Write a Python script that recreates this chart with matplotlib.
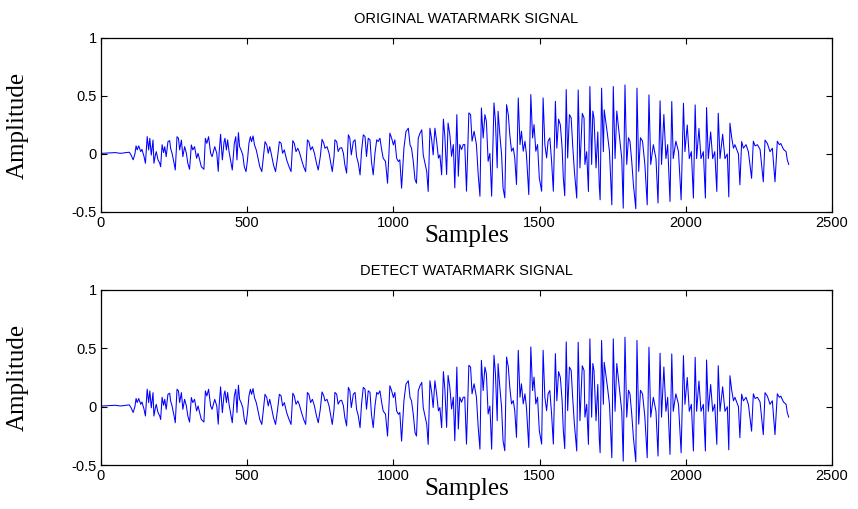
import numpy as np
import matplotlib
matplotlib.use("Agg")
import matplotlib.pyplot as plt

# sample index of each vertex
samples = [
    0, 20, 35, 50, 58, 70, 85, 97, 103, 110, 116, 120, 124, 129, 136, 140, 147, 152, 158, 163,
    167, 172, 178, 181, 186, 189, 195, 201, 204, 209, 214, 218, 223, 229, 235, 238, 243, 250, 254, 260,
    265, 269, 275, 280, 286, 292, 297, 303, 309, 314, 320, 327, 332, 343, 352, 357, 362, 368, 375, 380,
    389, 396,
    401, 404, 409, 415, 421, 424, 429, 433, 438, 445, 449, 456, 461, 465, 470, 474, 479, 485, 490, 496,
    501, 506, 511, 515, 520, 525, 531, 536, 543, 550, 555, 561, 567, 572, 577, 582, 590, 597, 604, 610,
    616, 621, 627, 635, 643, 650, 656, 661, 667, 673, 678, 686, 693, 700, 706, 711, 717, 723, 730, 737,
    743, 750, 756, 762, 766, 773, 780, 786, 791, 797,
    800, 806, 811, 817, 823, 829, 834, 840, 846, 851, 856, 863, 869, 874, 880, 886, 891, 897, 903, 908,
    914, 920, 925, 931, 937, 943, 948, 954, 960, 965, 973, 980, 988, 994, 1000, 1005, 1011, 1017, 1022, 1028,
    1036, 1043, 1051, 1057, 1062, 1068, 1074, 1079, 1085, 1091, 1097, 1102, 1108, 1114, 1119, 1125, 1131, 1136,
    1142, 1148, 1154, 1159, 1165, 1171, 1176,
    1182, 1187, 1193, 1199, 1205, 1210, 1217, 1222, 1227, 1233, 1239, 1244, 1250, 1258, 1264, 1269, 1276, 1284,
    1290, 1296, 1301, 1307, 1313, 1318, 1324, 1330, 1336, 1344, 1349, 1355, 1358, 1364, 1370, 1375, 1381, 1387,
    1393, 1398, 1404, 1410, 1415, 1421, 1427, 1433, 1438, 1444, 1450, 1455, 1463, 1470, 1476, 1481, 1487, 1493,
    1499, 1507, 1512, 1518, 1524, 1529, 1535, 1541, 1547, 1554, 1559, 1565, 1571, 1577, 1581, 1586,
    1591, 1596, 1602, 1608, 1613, 1619, 1627, 1632, 1638, 1646, 1652, 1655, 1661, 1667, 1672, 1678, 1682, 1686,
    1693, 1699, 1704, 1707, 1712, 1718, 1721, 1732, 1739, 1747, 1752, 1758, 1764, 1769, 1775, 1781, 1786, 1792,
    1798, 1804, 1809, 1815, 1821, 1829, 1833, 1839, 1845, 1852, 1860, 1868, 1874, 1880, 1889, 1898, 1905, 1912,
    1917, 1925, 1932, 1938, 1946, 1952, 1957, 1966, 1975, 1984, 1992, 1997, 2005, 2012, 2019, 2026, 2032, 2037,
    2045, 2052, 2060, 2067, 2071, 2077, 2085, 2092, 2099, 2106, 2111, 2117, 2126, 2134, 2142, 2147, 2151, 2157,
    2163, 2168, 2180, 2185, 2191, 2197, 2206, 2214, 2225, 2231, 2237, 2245, 2254, 2265, 2271, 2279, 2288, 2296,
    2305, 2313, 2320, 2325, 2334, 2343, 2347, 2352,
]

original = [
    0.005, 0.008, 0.010, 0.012, 0.008, 0.006, 0.012, 0.015, -0.01, -0.05, 0.0, 0.07, 0.035, 0.07, 0.02, 0.04, -0.02, -0.08, 0.15, 0.035,
    0.135, -0.01, 0.12, -0.08, -0.01, 0.02, -0.05, -0.08, -0.11, 0.08, 0.012, 0.063, -0.023, 0.106, 0.115, 0.05, 0.006, -0.08, -0.138, 0.149,
    0.135, 0.035, 0.12, -0.023, 0.063, 0.006, -0.08, -0.132, 0.078, 0.035, 0.063, -0.037, 0.006, -0.109, -0.132, 0.135, 0.092, 0.149, 0.006, -0.023,
    0.063, 0.006,
    -0.15, 0.006, 0.17, -0.051, 0.106, 0.135, 0.035, 0.121, 0.020, -0.080, -0.138, 0.092, 0.149, -0.051, 0.184, 0.063, 0.035, -0.008, -0.109, -0.152,
    -0.051, 0.092, 0.149, 0.106, 0.155, 0.078, 0.035, -0.023, -0.109, -0.152, -0.037, 0.106, 0.078, 0.006, 0.063, 0.006, -0.095, -0.152, -0.023, 0.106,
    0.092, 0.006, 0.035, -0.051, -0.109, -0.152, 0.115, 0.092, 0.020, 0.049, 0.020, -0.051, -0.109, -0.152, 0.121, 0.106, 0.035, 0.063, 0.006, -0.080,
    -0.138, -0.023, 0.126, 0.092, 0.049, 0.063, 0.006, -0.080, -0.152, -0.023,
    0.122, 0.107, 0.021, 0.050, 0.055, 0.007, -0.094, -0.165, 0.165, 0.136, -0.008, 0.107, 0.122, -0.022, -0.079, -0.180, 0.021, 0.165, 0.150, -0.022,
    0.136, 0.122, -0.065, -0.180, 0.007, 0.122, 0.107, 0.136, 0.035, -0.036, -0.065, -0.252, 0.179, 0.136, 0.078, 0.122, -0.036, -0.065, -0.050, -0.295,
    0.050, 0.193, 0.222, 0.078, 0.050, -0.065, -0.223, -0.252, 0.136, 0.179, 0.208, -0.008, -0.079, -0.151, -0.323, 0.222, 0.122, -0.008,
    0.222, 0.107, -0.036, -0.008, -0.180, 0.300, 0.150,
    -0.177, 0.267, 0.167, -0.020, 0.081, -0.292, 0.339, -0.192, 0.081, 0.038, 0.081, 0.081, -0.321, 0.354, 0.339, 0.110, 0.196, 0.081,
    -0.177, -0.364, 0.397, 0.138, 0.339, 0.282, -0.063, 0.005, -0.364, 0.440, 0.282, -0.120, 0.368, 0.167, -0.005, -0.292, -0.378, 0.425,
    0.339, 0.167, 0.024, 0.052, -0.034, -0.263, 0.483, 0.081, 0.196, 0.024, 0.110, -0.005, -0.350, 0.512, 0.138, 0.253, 0.024, 0.081,
    -0.206, -0.321, 0.483, 0.081, -0.034, 0.110, 0.138, -0.063, -0.321, 0.454, 0.05, 0.30, 0.25, 0.05, -0.20, -0.36,
    0.555, -0.034, 0.339, 0.311, 0.081, -0.149, -0.38, 0.552, -0.12, 0.35, 0.31, -0.09, 0.02, -0.323, 0.581, -0.09, 0.37, 0.31,
    -0.12, 0.19, -0.27, -0.395, 0.567, 0.02, 0.38, 0.17, 0.02, -0.438, 0.581, -0.04, 0.37, 0.25, 0.11, -0.04, -0.467, 0.595,
    -0.09, 0.14, 0.11, -0.06, -0.27, -0.472, 0.567, -0.15, 0.14, 0.11, -0.09, -0.438, 0.509, -0.09, 0.08, -0.04, -0.423, 0.458,
    -0.09, 0.34, -0.04, 0.08, -0.409, 0.452, -0.04, 0.11, 0.02, -0.395, 0.437, 0.02, 0.25, -0.04, 0.02, -0.38, 0.423, -0.04,
    0.22, -0.04, 0.02, -0.38, 0.40, -0.04, 0.19, -0.04, 0.02, -0.323, 0.351, -0.04, 0.17, -0.04, 0.0, -0.37, 0.265, 0.14,
    0.05, 0.08, 0.0, -0.266, 0.107, 0.05, 0.08, 0.02, -0.21, 0.11, 0.07, 0.08, 0.04, -0.24, 0.12, 0.09, 0.02, 0.05,
    -0.24, 0.11, 0.08, 0.09, 0.04, 0.02, -0.05, -0.09,
]

# detected watermark reads the same as the original
detected = list(original)

panels = [("ORIGINAL WATARMARK SIGNAL", original), ("DETECT WATARMARK SIGNAL", detected)]
x_ticks = [0, 500, 1000, 1500, 2000, 2500]
y_ticks = [-0.5, 0, 0.5, 1]

fig = plt.figure(figsize=(8.58, 5.09), dpi=100)
boxes = [[0.1177, 0.5835, 0.852, 0.342], [0.1177, 0.0864, 0.852, 0.344]]

for (title, sig), box in zip(panels, boxes):
    ax = fig.add_axes(box)
    ax.plot(samples, sig, color="#0000ff", lw=0.75)
    ax.set_xlim(0, 2500)
    ax.set_ylim(-0.5, 1)
    ax.set_xticks(x_ticks)
    ax.set_yticks(y_ticks)
    ax.set_yticklabels(["-0.5", "0", "0.5", "1"])
    ax.tick_params(direction="in", top=True, right=True, length=4, width=0.8,
                   labelsize=10.5, pad=3)
    for lab in ax.get_xticklabels() + ax.get_yticklabels():
        lab.set_family("Liberation Sans")
    for sp in ax.spines.values():
        sp.set_linewidth(0.9)
    ax.set_title(title, family="Liberation Sans", fontsize=10.5, pad=11)
    ax.set_ylabel("Amplitude", family="Liberation Serif", fontsize=18, labelpad=31)
    ax.set_xlabel("Samples", family="Liberation Serif", fontsize=18, labelpad=-4)

fig.savefig("out.png", dpi=100)
